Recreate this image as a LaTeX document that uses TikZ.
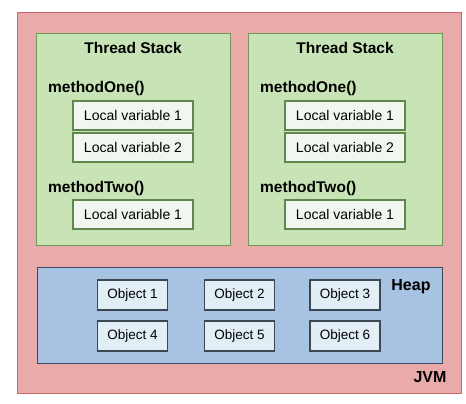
\documentclass[tikz,border=0pt]{standalone}
\usepackage{fontspec}
\setmainfont{Liberation Sans}
\usepackage{tikz}
\definecolor{jvmfill}{RGB}{235, 170, 170}
\definecolor{jvmline}{RGB}{200, 105, 105}
\definecolor{stackfill}{RGB}{200, 228, 182}
\definecolor{stackline}{RGB}{110, 155, 85}
\definecolor{varfill}{RGB}{242, 246, 240}
\definecolor{varline}{RGB}{95, 135, 75}
\definecolor{heapfill}{RGB}{168, 194, 226}
\definecolor{heapline}{RGB}{55, 72, 100}
\definecolor{objfill}{RGB}{226, 238, 246}
\definecolor{objline}{RGB}{60, 70, 85}

\begin{document}
\begin{tikzpicture}[x=1pt, y=-1pt,
    area/.style={anchor=north west, inner sep=0pt, line width=1.3pt},
    varbox/.style={draw=varline, fill=varfill, line width=1.3pt, inner sep=0pt,
      minimum width=120pt, minimum height=29pt, font=\fontsize{14}{16}\selectfont},
    objbox/.style={draw=objline, fill=objfill, line width=1.3pt, inner sep=0pt,
      minimum width=70pt, minimum height=30pt, font=\fontsize{13.5}{16}\selectfont},
    title/.style={inner sep=0pt, font=\bfseries\fontsize{15.5}{18}\selectfont}]
      \useasboundingbox (0,0) rectangle (466,404);
      % JVM
      \node[area, draw=jvmline, fill=jvmfill, minimum width=444pt, minimum height=381pt]
        (jvm) at (17,12) {};
      \node[title, font=\bfseries\fontsize{16}{18}\selectfont] (jvmlabel) at (430,377) {JVM};
      % Thread stacks
      \foreach \s/\sx in {L/36, R/248}{
        \node[area, draw=stackline, fill=stackfill, minimum width=194pt, minimum height=212pt]
          (stack\s) at (\sx,33) {};
        \node[title] (title\s) at (\sx+97,48) {Thread Stack};
        \node[title, anchor=west] (one\s) at (\sx+12,88) {methodOne()};
        \node[varbox] (oneA\s) at (\sx+97,115.5) {Local variable 1};
        \node[varbox] (oneB\s) at (\sx+97,147.5) {Local variable 2};
        \node[title, anchor=west] (two\s) at (\sx+12,188) {methodTwo()};
        \node[varbox] (twoA\s) at (\sx+97,214.5) {Local variable 1};
      }
      % Heap
      \node[area, draw=heapline, fill=heapfill, minimum width=405pt, minimum height=96pt]
        (heap) at (37,267) {};
      \node[title, font=\bfseries\fontsize{16}{18}\selectfont] (heaplabel) at (411,287) {Heap};
      \foreach \i/\x/\y in {1/132.5/295, 2/239.5/295, 3/345/295,
                            4/132.5/336, 5/239.5/336, 6/345/336}{
        \node[objbox] (obj\i) at (\x,\y) {Object \i};
      }
    \end{tikzpicture}
\end{document}
